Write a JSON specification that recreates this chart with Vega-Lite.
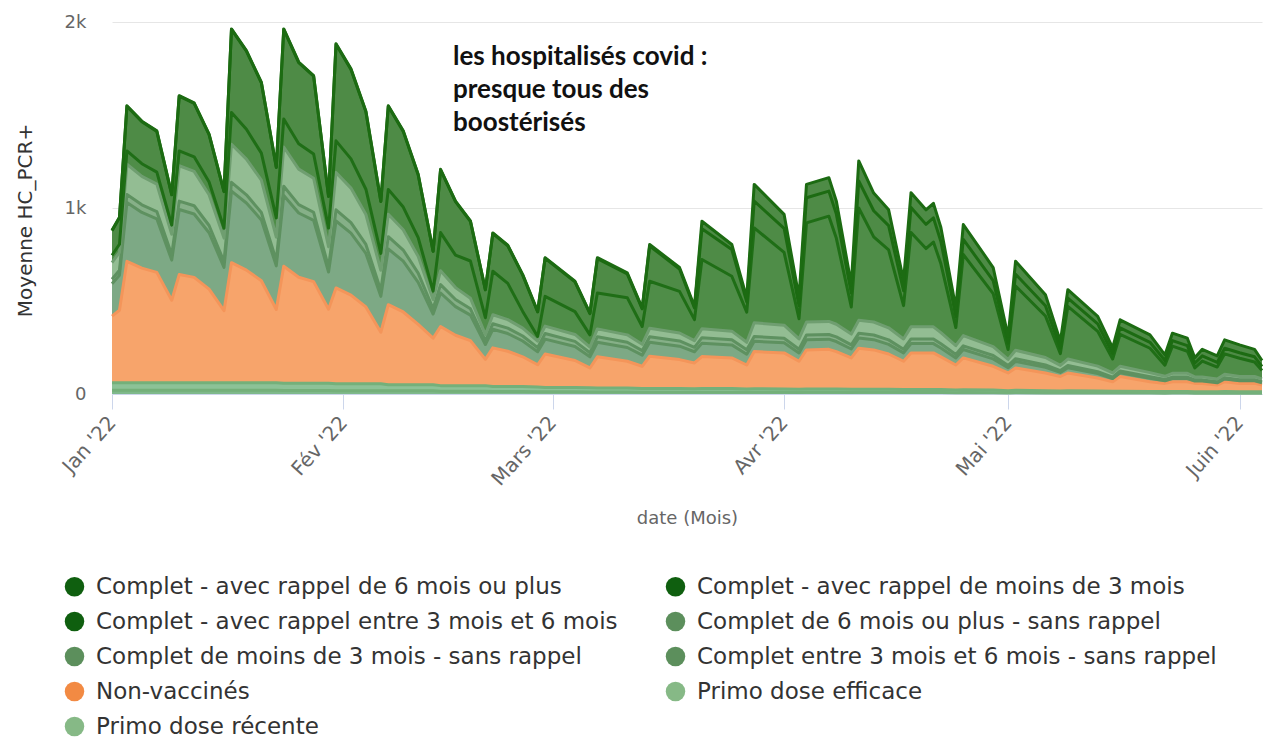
{
"$schema": "https://vega.github.io/schema/vega-lite/v6.json",
"width": 1150,
"height": 372,
"autosize": {"type": "none"},
"padding": {"left": 112, "top": 22, "right": 2, "bottom": 346},
"background": "white",
"config": {"view": {"stroke": null}, "font": "DejaVu Sans"},
"datasets": {
"series": [
{"k":"A","label":"Complet - avec rappel de 6 mois ou plus"},
{"k":"B","label":"Complet - avec rappel de moins de 3 mois"},
{"k":"C","label":"Complet - avec rappel entre 3 mois et 6 mois"},
{"k":"D","label":"Complet de 6 mois ou plus - sans rappel"},
{"k":"E","label":"Complet de moins de 3 mois - sans rappel"},
{"k":"F","label":"Complet entre 3 mois et 6 mois - sans rappel"},
{"k":"G","label":"Non-vaccinés"},
{"k":"H","label":"Primo dose efficace"},
{"k":"I","label":"Primo dose récente"}
],
"note": [
{"d":"2022-02-15T16:00:00Z","v":1770,"t":["les hospitalisés covid :","presque tous des","boostérisés"]}
],
"hc": [
{"d":"2022-01-01","k":"I","v":20},{"d":"2022-01-01","k":"H","v":40},{"d":"2022-01-01","k":"G","v":359},{"d":"2022-01-01","k":"F","v":174},{"d":"2022-01-01","k":"E","v":24},{"d":"2022-01-01","k":"D","v":89},{"d":"2022-01-01","k":"C","v":40},{"d":"2022-01-01","k":"B","v":132},{"d":"2022-01-01","k":"A","v":2},
{"d":"2022-01-02","k":"I","v":20},{"d":"2022-01-02","k":"H","v":40},{"d":"2022-01-02","k":"G","v":390},{"d":"2022-01-02","k":"F","v":189},{"d":"2022-01-02","k":"E","v":26},{"d":"2022-01-02","k":"D","v":97},{"d":"2022-01-02","k":"C","v":43},{"d":"2022-01-02","k":"B","v":143},{"d":"2022-01-02","k":"A","v":2},
{"d":"2022-01-03","k":"I","v":20},{"d":"2022-01-03","k":"H","v":40},{"d":"2022-01-03","k":"G","v":653},{"d":"2022-01-03","k":"F","v":317},{"d":"2022-01-03","k":"E","v":43},{"d":"2022-01-03","k":"D","v":162},{"d":"2022-01-03","k":"C","v":72},{"d":"2022-01-03","k":"B","v":240},{"d":"2022-01-03","k":"A","v":3},
{"d":"2022-01-05","k":"I","v":20},{"d":"2022-01-05","k":"H","v":40},{"d":"2022-01-05","k":"G","v":617},{"d":"2022-01-05","k":"F","v":299},{"d":"2022-01-05","k":"E","v":41},{"d":"2022-01-05","k":"D","v":153},{"d":"2022-01-05","k":"C","v":68},{"d":"2022-01-05","k":"B","v":226},{"d":"2022-01-05","k":"A","v":3},
{"d":"2022-01-07","k":"I","v":20},{"d":"2022-01-07","k":"H","v":40},{"d":"2022-01-07","k":"G","v":594},{"d":"2022-01-07","k":"F","v":288},{"d":"2022-01-07","k":"E","v":39},{"d":"2022-01-07","k":"D","v":147},{"d":"2022-01-07","k":"C","v":65},{"d":"2022-01-07","k":"B","v":219},{"d":"2022-01-07","k":"A","v":3},
{"d":"2022-01-09","k":"I","v":20},{"d":"2022-01-09","k":"H","v":40},{"d":"2022-01-09","k":"G","v":444},{"d":"2022-01-09","k":"F","v":216},{"d":"2022-01-09","k":"E","v":29},{"d":"2022-01-09","k":"D","v":110},{"d":"2022-01-09","k":"C","v":49},{"d":"2022-01-09","k":"B","v":163},{"d":"2022-01-09","k":"A","v":2},
{"d":"2022-01-10","k":"I","v":20},{"d":"2022-01-10","k":"H","v":40},{"d":"2022-01-10","k":"G","v":582},{"d":"2022-01-10","k":"F","v":350},{"d":"2022-01-10","k":"E","v":45},{"d":"2022-01-10","k":"D","v":190},{"d":"2022-01-10","k":"C","v":80},{"d":"2022-01-10","k":"B","v":294},{"d":"2022-01-10","k":"A","v":3},
{"d":"2022-01-12","k":"I","v":20},{"d":"2022-01-12","k":"H","v":40},{"d":"2022-01-12","k":"G","v":567},{"d":"2022-01-12","k":"F","v":341},{"d":"2022-01-12","k":"E","v":44},{"d":"2022-01-12","k":"D","v":185},{"d":"2022-01-12","k":"C","v":78},{"d":"2022-01-12","k":"B","v":287},{"d":"2022-01-12","k":"A","v":3},
{"d":"2022-01-14","k":"I","v":20},{"d":"2022-01-14","k":"H","v":40},{"d":"2022-01-14","k":"G","v":504},{"d":"2022-01-14","k":"F","v":303},{"d":"2022-01-14","k":"E","v":39},{"d":"2022-01-14","k":"D","v":165},{"d":"2022-01-14","k":"C","v":69},{"d":"2022-01-14","k":"B","v":254},{"d":"2022-01-14","k":"A","v":3},
{"d":"2022-01-16","k":"I","v":20},{"d":"2022-01-16","k":"H","v":40},{"d":"2022-01-16","k":"G","v":388},{"d":"2022-01-16","k":"F","v":233},{"d":"2022-01-16","k":"E","v":30},{"d":"2022-01-16","k":"D","v":127},{"d":"2022-01-16","k":"C","v":53},{"d":"2022-01-16","k":"B","v":197},{"d":"2022-01-16","k":"A","v":2},
{"d":"2022-01-17","k":"I","v":20},{"d":"2022-01-17","k":"H","v":40},{"d":"2022-01-17","k":"G","v":646},{"d":"2022-01-17","k":"F","v":385},{"d":"2022-01-17","k":"E","v":47},{"d":"2022-01-17","k":"D","v":205},{"d":"2022-01-17","k":"C","v":171},{"d":"2022-01-17","k":"B","v":446},{"d":"2022-01-17","k":"A","v":3},
{"d":"2022-01-19","k":"I","v":20},{"d":"2022-01-19","k":"H","v":40},{"d":"2022-01-19","k":"G","v":606},{"d":"2022-01-19","k":"F","v":361},{"d":"2022-01-19","k":"E","v":44},{"d":"2022-01-19","k":"D","v":192},{"d":"2022-01-19","k":"C","v":160},{"d":"2022-01-19","k":"B","v":420},{"d":"2022-01-19","k":"A","v":3},
{"d":"2022-01-21","k":"I","v":20},{"d":"2022-01-21","k":"H","v":40},{"d":"2022-01-21","k":"G","v":549},{"d":"2022-01-21","k":"F","v":327},{"d":"2022-01-21","k":"E","v":40},{"d":"2022-01-21","k":"D","v":174},{"d":"2022-01-21","k":"C","v":145},{"d":"2022-01-21","k":"B","v":378},{"d":"2022-01-21","k":"A","v":3},
{"d":"2022-01-23","k":"I","v":20},{"d":"2022-01-23","k":"H","v":40},{"d":"2022-01-23","k":"G","v":394},{"d":"2022-01-23","k":"F","v":235},{"d":"2022-01-23","k":"E","v":29},{"d":"2022-01-23","k":"D","v":125},{"d":"2022-01-23","k":"C","v":104},{"d":"2022-01-23","k":"B","v":271},{"d":"2022-01-23","k":"A","v":2},
{"d":"2022-01-24","k":"I","v":19},{"d":"2022-01-24","k":"H","v":39},{"d":"2022-01-24","k":"G","v":629},{"d":"2022-01-24","k":"F","v":380},{"d":"2022-01-24","k":"E","v":50},{"d":"2022-01-24","k":"D","v":211},{"d":"2022-01-24","k":"C","v":150},{"d":"2022-01-24","k":"B","v":482},{"d":"2022-01-24","k":"A","v":3},
{"d":"2022-01-26","k":"I","v":19},{"d":"2022-01-26","k":"H","v":39},{"d":"2022-01-26","k":"G","v":570},{"d":"2022-01-26","k":"F","v":345},{"d":"2022-01-26","k":"E","v":45},{"d":"2022-01-26","k":"D","v":191},{"d":"2022-01-26","k":"C","v":136},{"d":"2022-01-26","k":"B","v":437},{"d":"2022-01-26","k":"A","v":3},
{"d":"2022-01-28","k":"I","v":19},{"d":"2022-01-28","k":"H","v":39},{"d":"2022-01-28","k":"G","v":546},{"d":"2022-01-28","k":"F","v":330},{"d":"2022-01-28","k":"E","v":43},{"d":"2022-01-28","k":"D","v":183},{"d":"2022-01-28","k":"C","v":130},{"d":"2022-01-28","k":"B","v":419},{"d":"2022-01-28","k":"A","v":3},
{"d":"2022-01-30","k":"I","v":19},{"d":"2022-01-30","k":"H","v":39},{"d":"2022-01-30","k":"G","v":398},{"d":"2022-01-30","k":"F","v":200},{"d":"2022-01-30","k":"E","v":26},{"d":"2022-01-30","k":"D","v":110},{"d":"2022-01-30","k":"C","v":100},{"d":"2022-01-30","k":"B","v":170},{"d":"2022-01-30","k":"A","v":2},
{"d":"2022-01-31","k":"I","v":18},{"d":"2022-01-31","k":"H","v":37},{"d":"2022-01-31","k":"G","v":515},{"d":"2022-01-31","k":"F","v":360},{"d":"2022-01-31","k":"E","v":60},{"d":"2022-01-31","k":"D","v":201},{"d":"2022-01-31","k":"C","v":170},{"d":"2022-01-31","k":"B","v":519},{"d":"2022-01-31","k":"A","v":3},
{"d":"2022-02-02","k":"I","v":18},{"d":"2022-02-02","k":"H","v":37},{"d":"2022-02-02","k":"G","v":477},{"d":"2022-02-02","k":"F","v":333},{"d":"2022-02-02","k":"E","v":56},{"d":"2022-02-02","k":"D","v":186},{"d":"2022-02-02","k":"C","v":157},{"d":"2022-02-02","k":"B","v":481},{"d":"2022-02-02","k":"A","v":3},
{"d":"2022-02-04","k":"I","v":18},{"d":"2022-02-04","k":"H","v":37},{"d":"2022-02-04","k":"G","v":413},{"d":"2022-02-04","k":"F","v":288},{"d":"2022-02-04","k":"E","v":48},{"d":"2022-02-04","k":"D","v":161},{"d":"2022-02-04","k":"C","v":136},{"d":"2022-02-04","k":"B","v":417},{"d":"2022-02-04","k":"A","v":2},
{"d":"2022-02-06","k":"I","v":18},{"d":"2022-02-06","k":"H","v":37},{"d":"2022-02-06","k":"G","v":277},{"d":"2022-02-06","k":"F","v":193},{"d":"2022-02-06","k":"E","v":32},{"d":"2022-02-06","k":"D","v":108},{"d":"2022-02-06","k":"C","v":91},{"d":"2022-02-06","k":"B","v":279},{"d":"2022-02-06","k":"A","v":2},
{"d":"2022-02-07","k":"I","v":17},{"d":"2022-02-07","k":"H","v":33},{"d":"2022-02-07","k":"G","v":430},{"d":"2022-02-07","k":"F","v":300},{"d":"2022-02-07","k":"E","v":66},{"d":"2022-02-07","k":"D","v":120},{"d":"2022-02-07","k":"C","v":134},{"d":"2022-02-07","k":"B","v":447},{"d":"2022-02-07","k":"A","v":3},
{"d":"2022-02-09","k":"I","v":17},{"d":"2022-02-09","k":"H","v":33},{"d":"2022-02-09","k":"G","v":391},{"d":"2022-02-09","k":"F","v":273},{"d":"2022-02-09","k":"E","v":60},{"d":"2022-02-09","k":"D","v":109},{"d":"2022-02-09","k":"C","v":122},{"d":"2022-02-09","k":"B","v":407},{"d":"2022-02-09","k":"A","v":3},
{"d":"2022-02-11","k":"I","v":17},{"d":"2022-02-11","k":"H","v":33},{"d":"2022-02-11","k":"G","v":324},{"d":"2022-02-11","k":"F","v":226},{"d":"2022-02-11","k":"E","v":50},{"d":"2022-02-11","k":"D","v":90},{"d":"2022-02-11","k":"C","v":101},{"d":"2022-02-11","k":"B","v":338},{"d":"2022-02-11","k":"A","v":2},
{"d":"2022-02-13","k":"I","v":17},{"d":"2022-02-13","k":"H","v":33},{"d":"2022-02-13","k":"G","v":250},{"d":"2022-02-13","k":"F","v":130},{"d":"2022-02-13","k":"E","v":28},{"d":"2022-02-13","k":"D","v":50},{"d":"2022-02-13","k":"C","v":45},{"d":"2022-02-13","k":"B","v":214},{"d":"2022-02-13","k":"A","v":1},
{"d":"2022-02-14","k":"I","v":15},{"d":"2022-02-14","k":"H","v":30},{"d":"2022-02-14","k":"G","v":318},{"d":"2022-02-14","k":"F","v":180},{"d":"2022-02-14","k":"E","v":45},{"d":"2022-02-14","k":"D","v":75},{"d":"2022-02-14","k":"C","v":205},{"d":"2022-02-14","k":"B","v":337},{"d":"2022-02-14","k":"A","v":3},
{"d":"2022-02-16","k":"I","v":15},{"d":"2022-02-16","k":"H","v":30},{"d":"2022-02-16","k":"G","v":271},{"d":"2022-02-16","k":"F","v":154},{"d":"2022-02-16","k":"E","v":38},{"d":"2022-02-16","k":"D","v":64},{"d":"2022-02-16","k":"C","v":175},{"d":"2022-02-16","k":"B","v":287},{"d":"2022-02-16","k":"A","v":3},
{"d":"2022-02-18","k":"I","v":15},{"d":"2022-02-18","k":"H","v":30},{"d":"2022-02-18","k":"G","v":242},{"d":"2022-02-18","k":"F","v":137},{"d":"2022-02-18","k":"E","v":34},{"d":"2022-02-18","k":"D","v":57},{"d":"2022-02-18","k":"C","v":200},{"d":"2022-02-18","k":"B","v":213},{"d":"2022-02-18","k":"A","v":2},
{"d":"2022-02-20","k":"I","v":15},{"d":"2022-02-20","k":"H","v":30},{"d":"2022-02-20","k":"G","v":141},{"d":"2022-02-20","k":"F","v":80},{"d":"2022-02-20","k":"E","v":20},{"d":"2022-02-20","k":"D","v":33},{"d":"2022-02-20","k":"C","v":91},{"d":"2022-02-20","k":"B","v":150},{"d":"2022-02-20","k":"A","v":1},
{"d":"2022-02-21","k":"I","v":13},{"d":"2022-02-21","k":"H","v":27},{"d":"2022-02-21","k":"G","v":208},{"d":"2022-02-21","k":"F","v":100},{"d":"2022-02-21","k":"E","v":30},{"d":"2022-02-21","k":"D","v":48},{"d":"2022-02-21","k":"C","v":234},{"d":"2022-02-21","k":"B","v":203},{"d":"2022-02-21","k":"A","v":3},
{"d":"2022-02-23","k":"I","v":13},{"d":"2022-02-23","k":"H","v":27},{"d":"2022-02-23","k":"G","v":190},{"d":"2022-02-23","k":"F","v":95},{"d":"2022-02-23","k":"E","v":29},{"d":"2022-02-23","k":"D","v":46},{"d":"2022-02-23","k":"C","v":195},{"d":"2022-02-23","k":"B","v":202},{"d":"2022-02-23","k":"A","v":3},
{"d":"2022-02-25","k":"I","v":13},{"d":"2022-02-25","k":"H","v":27},{"d":"2022-02-25","k":"G","v":160},{"d":"2022-02-25","k":"F","v":85},{"d":"2022-02-25","k":"E","v":27},{"d":"2022-02-25","k":"D","v":42},{"d":"2022-02-25","k":"C","v":90},{"d":"2022-02-25","k":"B","v":195},{"d":"2022-02-25","k":"A","v":3},
{"d":"2022-02-27","k":"I","v":12},{"d":"2022-02-27","k":"H","v":25},{"d":"2022-02-27","k":"G","v":120},{"d":"2022-02-27","k":"F","v":70},{"d":"2022-02-27","k":"E","v":22},{"d":"2022-02-27","k":"D","v":35},{"d":"2022-02-27","k":"C","v":25},{"d":"2022-02-27","k":"B","v":132},{"d":"2022-02-27","k":"A","v":3},
{"d":"2022-02-28","k":"I","v":12},{"d":"2022-02-28","k":"H","v":23},{"d":"2022-02-28","k":"G","v":180},{"d":"2022-02-28","k":"F","v":80},{"d":"2022-02-28","k":"E","v":30},{"d":"2022-02-28","k":"D","v":40},{"d":"2022-02-28","k":"C","v":160},{"d":"2022-02-28","k":"B","v":205},{"d":"2022-02-28","k":"A","v":3},
{"d":"2022-03-04","k":"I","v":12},{"d":"2022-03-04","k":"H","v":23},{"d":"2022-03-04","k":"G","v":145},{"d":"2022-03-04","k":"F","v":75},{"d":"2022-03-04","k":"E","v":28},{"d":"2022-03-04","k":"D","v":37},{"d":"2022-03-04","k":"C","v":123},{"d":"2022-03-04","k":"B","v":160},{"d":"2022-03-04","k":"A","v":3},
{"d":"2022-03-06","k":"I","v":11},{"d":"2022-03-06","k":"H","v":22},{"d":"2022-03-06","k":"G","v":107},{"d":"2022-03-06","k":"F","v":60},{"d":"2022-03-06","k":"E","v":22},{"d":"2022-03-06","k":"D","v":30},{"d":"2022-03-06","k":"C","v":66},{"d":"2022-03-06","k":"B","v":114},{"d":"2022-03-06","k":"A","v":3},
{"d":"2022-03-07","k":"I","v":11},{"d":"2022-03-07","k":"H","v":21},{"d":"2022-03-07","k":"G","v":168},{"d":"2022-03-07","k":"F","v":78},{"d":"2022-03-07","k":"E","v":30},{"d":"2022-03-07","k":"D","v":42},{"d":"2022-03-07","k":"C","v":193},{"d":"2022-03-07","k":"B","v":185},{"d":"2022-03-07","k":"A","v":5},
{"d":"2022-03-11","k":"I","v":11},{"d":"2022-03-11","k":"H","v":21},{"d":"2022-03-11","k":"G","v":144},{"d":"2022-03-11","k":"F","v":74},{"d":"2022-03-11","k":"E","v":28},{"d":"2022-03-11","k":"D","v":40},{"d":"2022-03-11","k":"C","v":200},{"d":"2022-03-11","k":"B","v":128},{"d":"2022-03-11","k":"A","v":5},
{"d":"2022-03-13","k":"I","v":10},{"d":"2022-03-13","k":"H","v":20},{"d":"2022-03-13","k":"G","v":119},{"d":"2022-03-13","k":"F","v":60},{"d":"2022-03-13","k":"E","v":24},{"d":"2022-03-13","k":"D","v":34},{"d":"2022-03-13","k":"C","v":96},{"d":"2022-03-13","k":"B","v":95},{"d":"2022-03-13","k":"A","v":4},
{"d":"2022-03-14","k":"I","v":10},{"d":"2022-03-14","k":"H","v":20},{"d":"2022-03-14","k":"G","v":173},{"d":"2022-03-14","k":"F","v":75},{"d":"2022-03-14","k":"E","v":30},{"d":"2022-03-14","k":"D","v":45},{"d":"2022-03-14","k":"C","v":253},{"d":"2022-03-14","k":"B","v":190},{"d":"2022-03-14","k":"A","v":8},
{"d":"2022-03-18","k":"I","v":10},{"d":"2022-03-18","k":"H","v":20},{"d":"2022-03-18","k":"G","v":155},{"d":"2022-03-18","k":"F","v":72},{"d":"2022-03-18","k":"E","v":28},{"d":"2022-03-18","k":"D","v":43},{"d":"2022-03-18","k":"C","v":224},{"d":"2022-03-18","k":"B","v":120},{"d":"2022-03-18","k":"A","v":8},
{"d":"2022-03-20","k":"I","v":9},{"d":"2022-03-20","k":"H","v":19},{"d":"2022-03-20","k":"G","v":139},{"d":"2022-03-20","k":"F","v":60},{"d":"2022-03-20","k":"E","v":24},{"d":"2022-03-20","k":"D","v":36},{"d":"2022-03-20","k":"C","v":113},{"d":"2022-03-20","k":"B","v":62},{"d":"2022-03-20","k":"A","v":8},
{"d":"2022-03-21","k":"I","v":10},{"d":"2022-03-21","k":"H","v":20},{"d":"2022-03-21","k":"G","v":171},{"d":"2022-03-21","k":"F","v":72},{"d":"2022-03-21","k":"E","v":30},{"d":"2022-03-21","k":"D","v":48},{"d":"2022-03-21","k":"C","v":372},{"d":"2022-03-21","k":"B","v":166},{"d":"2022-03-21","k":"A","v":40},
{"d":"2022-03-25","k":"I","v":10},{"d":"2022-03-25","k":"H","v":20},{"d":"2022-03-25","k":"G","v":164},{"d":"2022-03-25","k":"F","v":70},{"d":"2022-03-25","k":"E","v":28},{"d":"2022-03-25","k":"D","v":46},{"d":"2022-03-25","k":"C","v":295},{"d":"2022-03-25","k":"B","v":144},{"d":"2022-03-25","k":"A","v":27},
{"d":"2022-03-27","k":"I","v":9},{"d":"2022-03-27","k":"H","v":18},{"d":"2022-03-27","k":"G","v":129},{"d":"2022-03-27","k":"F","v":58},{"d":"2022-03-27","k":"E","v":24},{"d":"2022-03-27","k":"D","v":40},{"d":"2022-03-27","k":"C","v":162},{"d":"2022-03-27","k":"B","v":55},{"d":"2022-03-27","k":"A","v":21},
{"d":"2022-03-28","k":"I","v":9},{"d":"2022-03-28","k":"H","v":19},{"d":"2022-03-28","k":"G","v":200},{"d":"2022-03-28","k":"F","v":55},{"d":"2022-03-28","k":"E","v":26},{"d":"2022-03-28","k":"D","v":74},{"d":"2022-03-28","k":"C","v":510},{"d":"2022-03-28","k":"B","v":144},{"d":"2022-03-28","k":"A","v":90},
{"d":"2022-04-01","k":"I","v":9},{"d":"2022-04-01","k":"H","v":18},{"d":"2022-04-01","k":"G","v":194},{"d":"2022-04-01","k":"F","v":54},{"d":"2022-04-01","k":"E","v":25},{"d":"2022-04-01","k":"D","v":70},{"d":"2022-04-01","k":"C","v":391},{"d":"2022-04-01","k":"B","v":130},{"d":"2022-04-01","k":"A","v":75},
{"d":"2022-04-03","k":"I","v":8},{"d":"2022-04-03","k":"H","v":17},{"d":"2022-04-03","k":"G","v":151},{"d":"2022-04-03","k":"F","v":45},{"d":"2022-04-03","k":"E","v":20},{"d":"2022-04-03","k":"D","v":55},{"d":"2022-04-03","k":"C","v":109},{"d":"2022-04-03","k":"B","v":70},{"d":"2022-04-03","k":"A","v":45},
{"d":"2022-04-04","k":"I","v":9},{"d":"2022-04-04","k":"H","v":18},{"d":"2022-04-04","k":"G","v":210},{"d":"2022-04-04","k":"F","v":55},{"d":"2022-04-04","k":"E","v":25},{"d":"2022-04-04","k":"D","v":70},{"d":"2022-04-04","k":"C","v":533},{"d":"2022-04-04","k":"B","v":135},{"d":"2022-04-04","k":"A","v":72},
{"d":"2022-04-07","k":"I","v":9},{"d":"2022-04-07","k":"H","v":18},{"d":"2022-04-07","k":"G","v":213},{"d":"2022-04-07","k":"F","v":55},{"d":"2022-04-07","k":"E","v":25},{"d":"2022-04-07","k":"D","v":70},{"d":"2022-04-07","k":"C","v":566},{"d":"2022-04-07","k":"B","v":135},{"d":"2022-04-07","k":"A","v":72},
{"d":"2022-04-08","k":"I","v":9},{"d":"2022-04-08","k":"H","v":18},{"d":"2022-04-08","k":"G","v":201},{"d":"2022-04-08","k":"F","v":54},{"d":"2022-04-08","k":"E","v":25},{"d":"2022-04-08","k":"D","v":68},{"d":"2022-04-08","k":"C","v":462},{"d":"2022-04-08","k":"B","v":130},{"d":"2022-04-08","k":"A","v":70},
{"d":"2022-04-10","k":"I","v":8},{"d":"2022-04-10","k":"H","v":17},{"d":"2022-04-10","k":"G","v":169},{"d":"2022-04-10","k":"F","v":48},{"d":"2022-04-10","k":"E","v":22},{"d":"2022-04-10","k":"D","v":58},{"d":"2022-04-10","k":"C","v":146},{"d":"2022-04-10","k":"B","v":75},{"d":"2022-04-10","k":"A","v":45},
{"d":"2022-04-11","k":"I","v":9},{"d":"2022-04-11","k":"H","v":17},{"d":"2022-04-11","k":"G","v":220},{"d":"2022-04-11","k":"F","v":55},{"d":"2022-04-11","k":"E","v":25},{"d":"2022-04-11","k":"D","v":70},{"d":"2022-04-11","k":"C","v":604},{"d":"2022-04-11","k":"B","v":145},{"d":"2022-04-11","k":"A","v":108},
{"d":"2022-04-13","k":"I","v":9},{"d":"2022-04-13","k":"H","v":17},{"d":"2022-04-13","k":"G","v":211},{"d":"2022-04-13","k":"F","v":55},{"d":"2022-04-13","k":"E","v":25},{"d":"2022-04-13","k":"D","v":70},{"d":"2022-04-13","k":"C","v":458},{"d":"2022-04-13","k":"B","v":140},{"d":"2022-04-13","k":"A","v":95},
{"d":"2022-04-15","k":"I","v":9},{"d":"2022-04-15","k":"H","v":17},{"d":"2022-04-15","k":"G","v":189},{"d":"2022-04-15","k":"F","v":52},{"d":"2022-04-15","k":"E","v":24},{"d":"2022-04-15","k":"D","v":65},{"d":"2022-04-15","k":"C","v":419},{"d":"2022-04-15","k":"B","v":130},{"d":"2022-04-15","k":"A","v":85},
{"d":"2022-04-17","k":"I","v":8},{"d":"2022-04-17","k":"H","v":16},{"d":"2022-04-17","k":"G","v":152},{"d":"2022-04-17","k":"F","v":45},{"d":"2022-04-17","k":"E","v":20},{"d":"2022-04-17","k":"D","v":55},{"d":"2022-04-17","k":"C","v":179},{"d":"2022-04-17","k":"B","v":80},{"d":"2022-04-17","k":"A","v":55},
{"d":"2022-04-18","k":"I","v":8},{"d":"2022-04-18","k":"H","v":16},{"d":"2022-04-18","k":"G","v":197},{"d":"2022-04-18","k":"F","v":50},{"d":"2022-04-18","k":"E","v":25},{"d":"2022-04-18","k":"D","v":65},{"d":"2022-04-18","k":"C","v":507},{"d":"2022-04-18","k":"B","v":135},{"d":"2022-04-18","k":"A","v":79},
{"d":"2022-04-20","k":"I","v":8},{"d":"2022-04-20","k":"H","v":16},{"d":"2022-04-20","k":"G","v":197},{"d":"2022-04-20","k":"F","v":50},{"d":"2022-04-20","k":"E","v":25},{"d":"2022-04-20","k":"D","v":65},{"d":"2022-04-20","k":"C","v":421},{"d":"2022-04-20","k":"B","v":130},{"d":"2022-04-20","k":"A","v":78},
{"d":"2022-04-21","k":"I","v":8},{"d":"2022-04-21","k":"H","v":16},{"d":"2022-04-21","k":"G","v":197},{"d":"2022-04-21","k":"F","v":50},{"d":"2022-04-21","k":"E","v":25},{"d":"2022-04-21","k":"D","v":65},{"d":"2022-04-21","k":"C","v":456},{"d":"2022-04-21","k":"B","v":130},{"d":"2022-04-21","k":"A","v":78},
{"d":"2022-04-22","k":"I","v":8},{"d":"2022-04-22","k":"H","v":16},{"d":"2022-04-22","k":"G","v":176},{"d":"2022-04-22","k":"F","v":47},{"d":"2022-04-22","k":"E","v":23},{"d":"2022-04-22","k":"D","v":60},{"d":"2022-04-22","k":"C","v":370},{"d":"2022-04-22","k":"B","v":120},{"d":"2022-04-22","k":"A","v":75},
{"d":"2022-04-24","k":"I","v":7},{"d":"2022-04-24","k":"H","v":15},{"d":"2022-04-24","k":"G","v":134},{"d":"2022-04-24","k":"F","v":38},{"d":"2022-04-24","k":"E","v":18},{"d":"2022-04-24","k":"D","v":48},{"d":"2022-04-24","k":"C","v":97},{"d":"2022-04-24","k":"B","v":60},{"d":"2022-04-24","k":"A","v":45},
{"d":"2022-04-25","k":"I","v":8},{"d":"2022-04-25","k":"H","v":15},{"d":"2022-04-25","k":"G","v":171},{"d":"2022-04-25","k":"F","v":45},{"d":"2022-04-25","k":"E","v":20},{"d":"2022-04-25","k":"D","v":55},{"d":"2022-04-25","k":"C","v":436},{"d":"2022-04-25","k":"B","v":81},{"d":"2022-04-25","k":"A","v":80},
{"d":"2022-04-29","k":"I","v":7},{"d":"2022-04-29","k":"H","v":14},{"d":"2022-04-29","k":"G","v":128},{"d":"2022-04-29","k":"F","v":40},{"d":"2022-04-29","k":"E","v":18},{"d":"2022-04-29","k":"D","v":48},{"d":"2022-04-29","k":"C","v":285},{"d":"2022-04-29","k":"B","v":70},{"d":"2022-04-29","k":"A","v":70},
{"d":"2022-05-01","k":"I","v":6},{"d":"2022-05-01","k":"H","v":12},{"d":"2022-05-01","k":"G","v":95},{"d":"2022-05-01","k":"F","v":28},{"d":"2022-05-01","k":"E","v":12},{"d":"2022-05-01","k":"D","v":33},{"d":"2022-05-01","k":"C","v":53},{"d":"2022-05-01","k":"B","v":35},{"d":"2022-05-01","k":"A","v":35},
{"d":"2022-05-02","k":"I","v":7},{"d":"2022-05-02","k":"H","v":13},{"d":"2022-05-02","k":"G","v":120},{"d":"2022-05-02","k":"F","v":35},{"d":"2022-05-02","k":"E","v":15},{"d":"2022-05-02","k":"D","v":45},{"d":"2022-05-02","k":"C","v":346},{"d":"2022-05-02","k":"B","v":63},{"d":"2022-05-02","k":"A","v":70},
{"d":"2022-05-06","k":"I","v":6},{"d":"2022-05-06","k":"H","v":12},{"d":"2022-05-06","k":"G","v":95},{"d":"2022-05-06","k":"F","v":30},{"d":"2022-05-06","k":"E","v":13},{"d":"2022-05-06","k":"D","v":40},{"d":"2022-05-06","k":"C","v":223},{"d":"2022-05-06","k":"B","v":55},{"d":"2022-05-06","k":"A","v":60},
{"d":"2022-05-08","k":"I","v":5},{"d":"2022-05-08","k":"H","v":11},{"d":"2022-05-08","k":"G","v":78},{"d":"2022-05-08","k":"F","v":22},{"d":"2022-05-08","k":"E","v":10},{"d":"2022-05-08","k":"D","v":28},{"d":"2022-05-08","k":"C","v":63},{"d":"2022-05-08","k":"B","v":30},{"d":"2022-05-08","k":"A","v":35},
{"d":"2022-05-09","k":"I","v":6},{"d":"2022-05-09","k":"H","v":12},{"d":"2022-05-09","k":"G","v":95},{"d":"2022-05-09","k":"F","v":28},{"d":"2022-05-09","k":"E","v":12},{"d":"2022-05-09","k":"D","v":35},{"d":"2022-05-09","k":"C","v":283},{"d":"2022-05-09","k":"B","v":45},{"d":"2022-05-09","k":"A","v":45},
{"d":"2022-05-13","k":"I","v":5},{"d":"2022-05-13","k":"H","v":11},{"d":"2022-05-13","k":"G","v":70},{"d":"2022-05-13","k":"F","v":24},{"d":"2022-05-13","k":"E","v":10},{"d":"2022-05-13","k":"D","v":30},{"d":"2022-05-13","k":"C","v":187},{"d":"2022-05-13","k":"B","v":40},{"d":"2022-05-13","k":"A","v":40},
{"d":"2022-05-15","k":"I","v":5},{"d":"2022-05-15","k":"H","v":10},{"d":"2022-05-15","k":"G","v":51},{"d":"2022-05-15","k":"F","v":17},{"d":"2022-05-15","k":"E","v":8},{"d":"2022-05-15","k":"D","v":22},{"d":"2022-05-15","k":"C","v":75},{"d":"2022-05-15","k":"B","v":30},{"d":"2022-05-15","k":"A","v":30},
{"d":"2022-05-16","k":"I","v":5},{"d":"2022-05-16","k":"H","v":10},{"d":"2022-05-16","k":"G","v":79},{"d":"2022-05-16","k":"F","v":20},{"d":"2022-05-16","k":"E","v":10},{"d":"2022-05-16","k":"D","v":25},{"d":"2022-05-16","k":"C","v":172},{"d":"2022-05-16","k":"B","v":35},{"d":"2022-05-16","k":"A","v":43},
{"d":"2022-05-20","k":"I","v":5},{"d":"2022-05-20","k":"H","v":9},{"d":"2022-05-20","k":"G","v":52},{"d":"2022-05-20","k":"F","v":18},{"d":"2022-05-20","k":"E","v":9},{"d":"2022-05-20","k":"D","v":22},{"d":"2022-05-20","k":"C","v":131},{"d":"2022-05-20","k":"B","v":32},{"d":"2022-05-20","k":"A","v":40},
{"d":"2022-05-22","k":"I","v":4},{"d":"2022-05-22","k":"H","v":9},{"d":"2022-05-22","k":"G","v":44},{"d":"2022-05-22","k":"F","v":14},{"d":"2022-05-22","k":"E","v":7},{"d":"2022-05-22","k":"D","v":17},{"d":"2022-05-22","k":"C","v":60},{"d":"2022-05-22","k":"B","v":25},{"d":"2022-05-22","k":"A","v":30},
{"d":"2022-05-23","k":"I","v":5},{"d":"2022-05-23","k":"H","v":9},{"d":"2022-05-23","k":"G","v":52},{"d":"2022-05-23","k":"F","v":17},{"d":"2022-05-23","k":"E","v":8},{"d":"2022-05-23","k":"D","v":20},{"d":"2022-05-23","k":"C","v":146},{"d":"2022-05-23","k":"B","v":30},{"d":"2022-05-23","k":"A","v":40},
{"d":"2022-05-25","k":"I","v":5},{"d":"2022-05-25","k":"H","v":9},{"d":"2022-05-25","k":"G","v":52},{"d":"2022-05-25","k":"F","v":17},{"d":"2022-05-25","k":"E","v":8},{"d":"2022-05-25","k":"D","v":20},{"d":"2022-05-25","k":"C","v":119},{"d":"2022-05-25","k":"B","v":30},{"d":"2022-05-25","k":"A","v":40},
{"d":"2022-05-26","k":"I","v":4},{"d":"2022-05-26","k":"H","v":8},{"d":"2022-05-26","k":"G","v":45},{"d":"2022-05-26","k":"F","v":13},{"d":"2022-05-26","k":"E","v":6},{"d":"2022-05-26","k":"D","v":16},{"d":"2022-05-26","k":"C","v":48},{"d":"2022-05-26","k":"B","v":25},{"d":"2022-05-26","k":"A","v":30},
{"d":"2022-05-27","k":"I","v":4},{"d":"2022-05-27","k":"H","v":8},{"d":"2022-05-27","k":"G","v":45},{"d":"2022-05-27","k":"F","v":13},{"d":"2022-05-27","k":"E","v":6},{"d":"2022-05-27","k":"D","v":16},{"d":"2022-05-27","k":"C","v":85},{"d":"2022-05-27","k":"B","v":28},{"d":"2022-05-27","k":"A","v":35},
{"d":"2022-05-29","k":"I","v":4},{"d":"2022-05-29","k":"H","v":8},{"d":"2022-05-29","k":"G","v":36},{"d":"2022-05-29","k":"F","v":12},{"d":"2022-05-29","k":"E","v":6},{"d":"2022-05-29","k":"D","v":15},{"d":"2022-05-29","k":"C","v":64},{"d":"2022-05-29","k":"B","v":25},{"d":"2022-05-29","k":"A","v":35},
{"d":"2022-05-30","k":"I","v":4},{"d":"2022-05-30","k":"H","v":9},{"d":"2022-05-30","k":"G","v":53},{"d":"2022-05-30","k":"F","v":15},{"d":"2022-05-30","k":"E","v":7},{"d":"2022-05-30","k":"D","v":18},{"d":"2022-05-30","k":"C","v":110},{"d":"2022-05-30","k":"B","v":30},{"d":"2022-05-30","k":"A","v":45},
{"d":"2022-06-01","k":"I","v":4},{"d":"2022-06-01","k":"H","v":8},{"d":"2022-06-01","k":"G","v":45},{"d":"2022-06-01","k":"F","v":14},{"d":"2022-06-01","k":"E","v":6},{"d":"2022-06-01","k":"D","v":17},{"d":"2022-06-01","k":"C","v":98},{"d":"2022-06-01","k":"B","v":30},{"d":"2022-06-01","k":"A","v":42},
{"d":"2022-06-03","k":"I","v":4},{"d":"2022-06-03","k":"H","v":8},{"d":"2022-06-03","k":"G","v":45},{"d":"2022-06-03","k":"F","v":14},{"d":"2022-06-03","k":"E","v":6},{"d":"2022-06-03","k":"D","v":17},{"d":"2022-06-03","k":"C","v":78},{"d":"2022-06-03","k":"B","v":28},{"d":"2022-06-03","k":"A","v":40},
{"d":"2022-06-04","k":"I","v":4},{"d":"2022-06-04","k":"H","v":8},{"d":"2022-06-04","k":"G","v":36},{"d":"2022-06-04","k":"F","v":12},{"d":"2022-06-04","k":"E","v":6},{"d":"2022-06-04","k":"D","v":15},{"d":"2022-06-04","k":"C","v":45},{"d":"2022-06-04","k":"B","v":22},{"d":"2022-06-04","k":"A","v":32}
]
},
"layer": [
{
"data": {"name": "hc"},
"transform": [
{"lookup": "k", "from": {"data": {"name": "series"}, "key": "k", "fields": ["label"]}},
{"stack": "v", "groupby": ["d"], "sort": [{"field": "k", "order": "descending"}], "as": ["v0", "v1"]}
],
"encoding": {
"x": {"field": "d", "type": "temporal",
"scale": {"type": "utc", "domain": [{"year": 2022, "month": 1, "date": 1, "utc": true}, {"year": 2022, "month": 6, "date": 4, "utc": true}]},
"axis": {"values": [{"year": 2022, "month": 1, "date": 1, "utc": true}, {"year": 2022, "month": 2, "date": 1, "utc": true}, {"year": 2022, "month": 3, "date": 1, "utc": true}, {"year": 2022, "month": 4, "date": 1, "utc": true}, {"year": 2022, "month": 5, "date": 1, "utc": true}, {"year": 2022, "month": 6, "date": 1, "utc": true}],
"labelExpr": "['Jan','Fév','Mars','Avr','Mai','Juin','Juil'][utcmonth(datum.value)] + \" '22\"",
"labelAngle": -48, "labelAlign": "right", "labelBaseline": "middle", "labelFontSize": 20, "labelColor": "#666666", "labelPadding": 10, "labelOverlap": false, "labelFlush": false,
"grid": false, "domainColor": "#ccd6eb", "tickColor": "#ccd6eb", "tickSize": 15,
"title": "date (Mois)", "titleFontSize": 18, "titleColor": "#666666", "titleFontWeight": "normal", "titleY": 124, "titleBaseline": "middle"}},
"y": {"field": "v1", "type": "quantitative",
"scale": {"domain": [0, 2000], "nice": false},
"axis": {"values": [0, 1000, 2000], "labelExpr": "datum.value == 0 ? '0' : (datum.value / 1000) + 'k'",
"grid": true, "gridColor": "#e6e6e6", "domain": false, "ticks": false, "labelPadding": 26, "labelFontSize": 18, "labelColor": "#666666",
"title": "Moyenne HC_PCR+", "titleFontSize": 20, "titleColor": "#333333", "titleFontWeight": "normal", "titleAngle": -90, "titleX": -87, "titleY": 198, "titleAlign": "center", "titleBaseline": "middle"}}
},
"layer": [
{"mark": {"type": "area", "interpolate": "linear"},
"encoding": {
"y2": {"field": "v0"},
"color": {"field": "label", "type": "nominal", "legend": null,
"scale": {"domain": ["Complet - avec rappel de 6 mois ou plus", "Complet - avec rappel de moins de 3 mois", "Complet - avec rappel entre 3 mois et 6 mois", "Complet de 6 mois ou plus - sans rappel", "Complet de moins de 3 mois - sans rappel", "Complet entre 3 mois et 6 mois - sans rappel", "Non-vaccinés", "Primo dose efficace", "Primo dose récente"],
"range": ["#4e8b46", "#4e8b46", "#4f8d48", "#93bd93", "#86b088", "#7da985", "#f7a46b", "#8cc297", "#7fb98b"]}}}},
{"mark": {"type": "line", "interpolate": "linear", "strokeJoin": "round"},
"encoding": {
"color": {"field": "label", "type": "nominal", "legend": null,
"scale": {"domain": ["Complet - avec rappel de 6 mois ou plus", "Complet - avec rappel de moins de 3 mois", "Complet - avec rappel entre 3 mois et 6 mois", "Complet de 6 mois ou plus - sans rappel", "Complet de moins de 3 mois - sans rappel", "Complet entre 3 mois et 6 mois - sans rappel", "Non-vaccinés", "Primo dose efficace", "Primo dose récente"],
"range": ["#1c6b12", "#1c6b12", "#1f6e16", "#6f9e70", "#5e9160", "#5e9160", "#f4955a", "#74b07a", "#74b07a"]}},
"strokeWidth": {"field": "label", "type": "ordinal", "legend": null,
"scale": {"domain": ["Complet - avec rappel de 6 mois ou plus", "Complet - avec rappel de moins de 3 mois", "Complet - avec rappel entre 3 mois et 6 mois", "Complet de 6 mois ou plus - sans rappel", "Complet de moins de 3 mois - sans rappel", "Complet entre 3 mois et 6 mois - sans rappel", "Non-vaccinés", "Primo dose efficace", "Primo dose récente"],
"range": [3, 3, 3, 1.2, 1.5, 1.5, 1, 1.2, 1.2]}}}}
],
"resolve": {"scale": {"color": "independent"}}
},
{
"data": {"name": "series"},
"mark": {"type": "point", "filled": true, "opacity": 0},
"encoding": {
"color": {"field": "label", "type": "nominal",
"scale": {"domain": ["Complet - avec rappel de 6 mois ou plus", "Complet - avec rappel de moins de 3 mois", "Complet - avec rappel entre 3 mois et 6 mois", "Complet de 6 mois ou plus - sans rappel", "Complet de moins de 3 mois - sans rappel", "Complet entre 3 mois et 6 mois - sans rappel", "Non-vaccinés", "Primo dose efficace", "Primo dose récente"],
"range": ["#0f5f0f", "#0f5f0f", "#0f5f0f", "#5c8f5c", "#5c8f5c", "#5c8f5c", "#f28a43", "#86b986", "#86b986"]},
"legend": {"orient": "none", "legendX": -49, "legendY": 553, "direction": "horizontal", "columns": 2, "title": null, "padding": 0,
"symbolType": "circle", "symbolSize": 380, "symbolOpacity": 1, "symbolStrokeWidth": 0,
"labelFontSize": 23, "labelColor": "#333333", "labelFont": "DejaVu Sans", "labelOffset": 10, "labelLimit": 700,
"rowPadding": 11, "columnPadding": 46}}
}
},
{
"data": {"name": "note"},
"mark": {"type": "text", "align": "left", "baseline": "alphabetic", "font": "Lato", "fontSize": 26, "fontWeight": "bold", "color": "#111111", "lineHeight": 33},
"encoding": {
"x": {"field": "d", "type": "temporal", "axis": null,
"scale": {"type": "utc", "domain": [{"year": 2022, "month": 1, "date": 1, "utc": true}, {"year": 2022, "month": 6, "date": 4, "utc": true}]}},
"y": {"field": "v", "type": "quantitative", "axis": null, "scale": {"domain": [0, 2000], "nice": false}},
"text": {"field": "t"}
}
}
],
"resolve": {"scale": {"color": "independent", "x": "independent", "y": "independent"}}
}
